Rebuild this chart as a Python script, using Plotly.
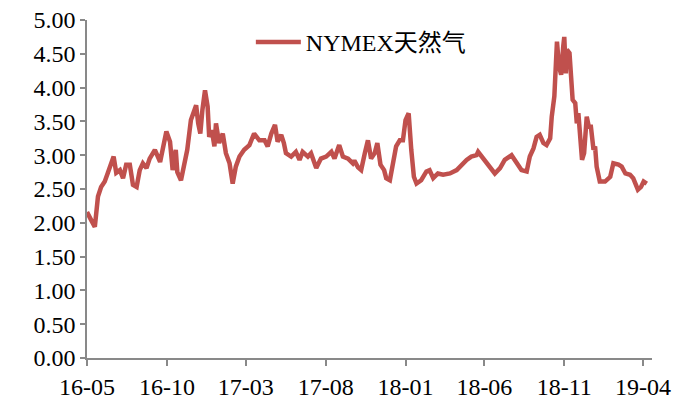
import datetime as dt
import plotly.graph_objects as go

# Days since 2016-05-01 and NYMEX natural gas price (USD/MMBtu)
day_offsets = [0, 2, 8, 15, 18, 21, 27, 34, 40, 47, 51, 56, 63, 69, 75, 82, 88, 95, 101, 107,
               114, 120, 130, 140, 146, 152, 159, 164, 170, 173, 180, 186, 192, 199, 204, 209,
               213, 217, 221, 226, 231, 234, 239, 244, 247, 253, 260, 266, 273, 279, 285, 292,
               301, 311, 320, 330, 340, 346, 353, 360, 365, 372, 377, 381, 391, 400, 407, 413,
               423, 429, 439, 448, 458, 468, 474, 483, 490, 500, 509, 512, 519, 525, 532, 538,
               544, 551, 556, 562, 569, 573, 580, 586, 592, 599, 605, 610, 616, 621, 626, 631,
               640, 650, 656, 663, 672, 682, 695, 708, 717, 727, 736, 746, 749, 759, 768, 781,
               791, 800, 813, 823, 832, 842, 848, 855, 861, 867, 874, 880, 887, 890, 895, 898,
               900, 904, 908, 912, 914, 917, 919, 924, 927, 930, 935, 938, 941, 944, 948, 952,
               957, 961, 965, 970, 973, 976, 982, 992, 1002, 1008, 1018, 1024, 1031, 1040, 1046,
               1055, 1061, 1066, 1072]
prices = [2.16, 2.12, 2.04, 1.94, 2.14, 2.39, 2.53, 2.61, 2.74, 2.90, 2.98, 2.74, 2.78, 2.66,
          2.86, 2.86, 2.56, 2.53, 2.78, 2.88, 2.81, 2.95, 3.08, 2.90, 3.15, 3.35, 3.20, 2.78,
          3.08, 2.75, 2.63, 2.83, 3.08, 3.52, 3.64, 3.74, 3.47, 3.32, 3.67, 3.96, 3.72, 3.27,
          3.37, 3.13, 3.47, 3.18, 3.32, 3.03, 2.88, 2.58, 2.83, 2.98, 3.08, 3.15, 3.32, 3.22,
          3.22, 3.13, 3.32, 3.45, 3.20, 3.30, 3.18, 3.03, 2.98, 3.05, 2.93, 3.05, 2.98, 3.03,
          2.81, 2.95, 2.98, 3.05, 2.95, 3.15, 2.98, 2.95, 2.88, 2.92, 2.82, 2.78, 3.03, 3.22,
          2.95, 3.03, 3.18, 2.86, 2.78, 2.66, 2.63, 2.93, 3.13, 3.22, 3.22, 3.52, 3.62, 3.08,
          2.68, 2.58, 2.63, 2.76, 2.78, 2.66, 2.73, 2.71, 2.73, 2.78, 2.86, 2.93, 2.98, 3.00,
          3.05, 2.95, 2.86, 2.73, 2.81, 2.93, 3.00, 2.88, 2.78, 2.76, 2.98, 3.10, 3.27, 3.30,
          3.18, 3.15, 3.25, 3.57, 3.87, 4.36, 4.68, 4.31, 4.19, 4.61, 4.75, 4.21, 4.56, 4.51,
          4.11, 3.82, 3.77, 3.47, 3.62, 3.27, 2.93, 3.03, 3.57, 3.42, 3.42, 3.08, 3.13, 2.83,
          2.61, 2.61, 2.68, 2.88, 2.86, 2.83, 2.73, 2.71, 2.66, 2.49, 2.53, 2.61, 2.58]

tick_dates = ["2016-05-01", "2016-10-01", "2017-03-01", "2017-08-01",
              "2018-01-01", "2018-06-01", "2018-11-01", "2019-04-01"]
tick_labels = ["16-05", "16-10", "17-03", "17-08", "18-01", "18-06", "18-11", "19-04"]
series_name = "NYMEX天然气"

start = dt.date(2016, 5, 1)
dates = [start + dt.timedelta(days=d) for d in day_offsets]

fig = go.Figure()
fig.add_trace(go.Scatter(
    x=dates, y=prices, mode="lines", name=series_name,
    line=dict(color="#C0504D", width=4.5),
))

axis_font = dict(family="Liberation Serif, Times New Roman, serif", size=24, color="#000000")

fig.update_layout(
    width=675, height=400,
    margin=dict(l=87, r=23, t=20, b=42, autoexpand=False),
    paper_bgcolor="white", plot_bgcolor="white",
    showlegend=True,
    legend=dict(
        x=0.29, y=1.0, xanchor="left", yanchor="top",
        itemwidth=45,
        bgcolor="rgba(0,0,0,0)",
        font=dict(family="Liberation Serif, Noto Sans CJK SC, serif", size=24, color="#000000"),
    ),
    xaxis=dict(
        type="date", automargin=False,
        range=[start, start + dt.timedelta(days=1082)],
        tickvals=tick_dates, ticktext=tick_labels,
        showgrid=False, zeroline=False,
        showline=True, linecolor="#898989", linewidth=1.5,
        ticks="outside", ticklen=6, tickcolor="#898989", tickwidth=1.5,
        tickfont=axis_font,
    ),
    yaxis=dict(
        range=[0, 5], dtick=0.5, tickformat=".2f", automargin=False,
        showgrid=False, zeroline=False,
        showline=True, linecolor="#898989", linewidth=1.5,
        ticks="outside", ticklen=5, tickcolor="#898989", tickwidth=1.5,
        tickfont=axis_font,
    ),
)

fig.write_html("out.html", config={"displayModeBar": False},
               post_script="document.body.style.margin='0';")
